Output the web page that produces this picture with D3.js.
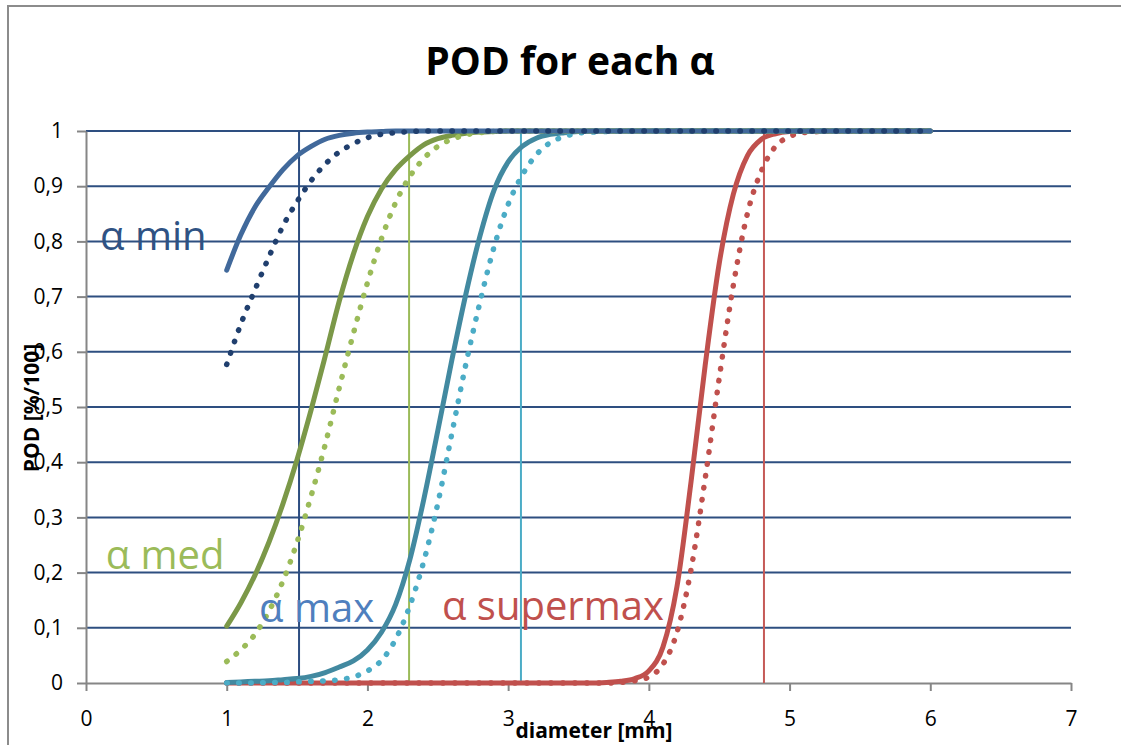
<!DOCTYPE html>
<html>
<head>
<meta charset="utf-8">
<script src="https://cdn.jsdelivr.net/npm/d3@7"></script>
<style>
  html, body { margin: 0; padding: 0; background: #fff; }
  svg { display: block; font-family: "Open Sans", "Noto Sans", sans-serif; }
</style>
</head>
<body>
<svg id="chart" width="1121" height="745"></svg>
<script>
// ---------------- data ----------------
const diameters = [1.0,1.1,1.2,1.3,1.4,1.5,1.6,1.7,1.8,1.9,
                   2.0,2.1,2.2,2.3,2.4,2.5,2.6,2.7,2.8,2.9,
                   3.0,3.1,3.2,3.3,3.4,3.5,3.6,3.7,3.8,3.9,
                   4.0,4.1,4.2,4.3,4.4,4.5,4.6,4.7,4.8,4.9,
                   5.0,5.1,5.2,5.3,5.4,5.5,5.6,5.7,5.8,5.9,6.0];

const podMinSolid = [0.748,0.812,0.862,0.898,0.930,0.955,0.972,0.985,0.992,0.996,
                     0.998,0.999,1,1,1,1,1,1,1,1,
                     1,1,1,1,1,1,1,1,1,1,
                     1,1,1,1,1,1,1,1,1,1,
                     1,1,1,1,1,1,1,1,1,1,1];
const podMinDotted = [0.577,0.650,0.712,0.772,0.828,0.872,0.910,0.940,0.962,0.977,
                      0.988,0.994,0.997,0.999,1,1,1,1,1,1,
                      1,1,1,1,1,1,1,1,1,1,
                      1,1,1,1,1,1,1,1,1,1,
                      1,1,1,1,1,1,1,1,1,1,1];
const podMedSolid = [0.103,0.145,0.195,0.255,0.325,0.405,0.495,0.592,0.692,0.777,
                     0.845,0.895,0.930,0.955,0.975,0.986,0.992,0.996,0.998,0.999,
                     1,1,1,1,1,1,1,1,1,1,
                     1,1,1,1,1,1,1,1,1,1,
                     1,1,1,1,1,1,1,1,1,1,1];
const podMedDotted = [0.039,0.060,0.088,0.130,0.185,0.255,0.339,0.432,0.535,0.633,
                      0.725,0.805,0.870,0.917,0.950,0.972,0.985,0.993,0.997,0.999,
                      1,1,1,1,1,1,1,1,1,1,
                      1,1,1,1,1,1,1,1,1,1,
                      1,1,1,1,1,1,1,1,1,1,1];
const podMaxSolid = [0.001,0.002,0.003,0.004,0.006,0.008,0.012,0.019,0.029,0.040,
                     0.060,0.092,0.142,0.222,0.332,0.457,0.585,0.705,0.810,0.893,
                     0.944,0.972,0.987,0.994,0.997,0.999,1,1,1,1,
                     1,1,1,1,1,1,1,1,1,1,
                     1,1,1,1,1,1,1,1,1,1,1];
const podMaxDotted = [0,0,0,0.001,0.001,0.002,0.003,0.004,0.006,0.011,
                      0.022,0.041,0.079,0.139,0.220,0.325,0.452,0.578,0.690,0.790,
                      0.867,0.920,0.957,0.979,0.990,0.996,0.998,0.999,1,1,
                      1,1,1,1,1,1,1,1,1,1,
                      1,1,1,1,1,1,1,1,1,1,1];
const podSupermaxSolid = [0,0,0,0,0,0,0,0,0,0,
                          0,0,0,0,0,0,0,0,0,0,
                          0,0,0,0,0,0,0,0.001,0.003,0.008,
                          0.022,0.065,0.175,0.365,0.575,0.760,0.885,0.955,0.985,0.995,
                          0.999,1,1,1,1,1,1,1,1,1,1];
const podSupermaxDotted = [0,0,0,0,0,0,0,0,0,0,
                           0,0,0,0,0,0,0,0,0,0,
                           0,0,0,0,0,0,0,0,0.001,0.004,
                           0.011,0.034,0.092,0.206,0.370,0.552,0.720,0.850,0.928,0.972,
                           0.990,0.997,0.999,1,1,1,1,1,1,1,1];

// vertical reference diameters (POD threshold lines)
const refDiameters = [1.514, 2.296, 3.091, 4.818];

const xTicks = [0,1,2,3,4,5,6,7];
const xTickLabels = ["0","1","2","3","4","5","6","7"];
const yTicks = [0,0.1,0.2,0.3,0.4,0.5,0.6,0.7,0.8,0.9,1];
const yTickLabels = ["0","0,1","0,2","0,3","0,4","0,5","0,6","0,7","0,8","0,9","1"];

const seriesLabels = ["α min","α med","α max","α supermax"];
const labelAnchors = [[0.1,0.785],[0.14,0.207],[1.23,0.11],[2.53,0.115]];

// ---------------- styling ----------------
const colors = {
  minSolid: "#41699b", minDotted: "#203f6e",
  medSolid: "#7b9848", medDotted: "#9bbb59",
  maxSolid: "#4289a0", maxDotted: "#4bacc6",
  supSolid: "#c0504d", supDotted: "#c0504d"
};
const refColors = ["#2c4d80", "#9bbb59", "#4bacc6", "#c55a57"];
const labelColors = ["#2f5283", "#9bbb59", "#4f7fbe", "#c0504d"];

const svg = d3.select("#chart");
const x = d3.scaleLinear().domain([0, 7]).range([86, 1071]);
const y = d3.scaleLinear().domain([0, 1]).range([683, 131]);

// outer chart border
svg.append("path")
  .attr("d", "M8,760 L8,6 L1130,6")
  .attr("fill", "none").attr("stroke", "#8c8c8c").attr("stroke-width", 2);

// title
svg.append("text")
  .attr("x", 570).attr("y", 75)
  .attr("text-anchor", "middle")
  .attr("font-weight", "bold").attr("font-size", 39)
  .attr("fill", "#000")
  .text("POD for each α");

// gridlines
svg.append("g").selectAll("line")
  .data(yTicks.filter(d => d > 0))
  .join("line")
  .attr("x1", x(0)).attr("x2", x(7))
  .attr("y1", d => y(d)).attr("y2", d => y(d))
  .attr("stroke", "#2e4f80").attr("stroke-width", 2);

// y axis
const yAxis = d3.axisLeft(y).tickValues(yTicks)
  .tickFormat((d, i) => yTickLabels[i]).tickSize(9).tickSizeOuter(0).tickPadding(14);
const gy = svg.append("g").attr("transform", `translate(${x(0)},0)`).call(yAxis);
gy.select(".domain").attr("stroke", "#868686").attr("stroke-width", 2);
gy.selectAll(".tick line").attr("stroke", "#868686").attr("stroke-width", 2);
gy.selectAll(".tick text").attr("font-size", 21).attr("fill", "#000")
  .attr("font-family", "'Open Sans', sans-serif");

// x axis
const xAxis = d3.axisBottom(x).tickValues(xTicks)
  .tickFormat((d, i) => xTickLabels[i]).tickSize(8).tickSizeOuter(0).tickPadding(20);
const gx = svg.append("g").attr("transform", `translate(0,${y(0)})`).call(xAxis);
gx.select(".domain").attr("stroke", "#868686").attr("stroke-width", 2);
gx.selectAll(".tick line").attr("stroke", "#868686").attr("stroke-width", 2);
gx.selectAll(".tick text").attr("font-size", 21).attr("fill", "#000")
  .attr("font-family", "'Open Sans', sans-serif");

// vertical reference lines
svg.append("g").selectAll("line")
  .data(refDiameters)
  .join("line")
  .attr("x1", d => x(d)).attr("x2", d => x(d))
  .attr("y1", y(0)).attr("y2", y(1))
  .attr("stroke", (d, i) => refColors[i]).attr("stroke-width", 2);

// curves
const line = d3.line()
  .x((d, i) => x(diameters[i]))
  .y(d => y(d))
  .curve(d3.curveMonotoneX);

const series = [
  {v: podSupermaxSolid, c: colors.supSolid, dotted: false},
  {v: podSupermaxDotted, c: colors.supDotted, dotted: true},
  {v: podMaxSolid, c: colors.maxSolid, dotted: false},
  {v: podMaxDotted, c: colors.maxDotted, dotted: true},
  {v: podMedSolid, c: colors.medSolid, dotted: false},
  {v: podMedDotted, c: colors.medDotted, dotted: true},
  {v: podMinSolid, c: colors.minSolid, dotted: false},
  {v: podMinDotted, c: colors.minDotted, dotted: true}
];
svg.append("g").selectAll("path")
  .data(series)
  .join("path")
  .attr("d", d => line(d.v))
  .attr("fill", "none")
  .attr("stroke", d => d.c)
  .attr("stroke-width", d => d.dotted ? 5.5 : 5)
  .attr("stroke-linecap", "round")
  .attr("stroke-linejoin", "round")
  .attr("stroke-dasharray", d => d.dotted ? "0.5 11.5" : null);

// series labels
svg.append("g").selectAll("text")
  .data(seriesLabels)
  .join("text")
  .attr("x", (d, i) => x(labelAnchors[i][0]))
  .attr("y", (d, i) => y(labelAnchors[i][1]))
  .attr("font-size", 40)
  .attr("fill", (d, i) => labelColors[i])
  .text(d => d);

// axis titles
svg.append("text")
  .attr("x", 594).attr("y", 738)
  .attr("text-anchor", "middle")
  .attr("font-weight", "bold").attr("font-size", 21)
  .attr("fill", "#000")
  .text("diameter [mm]");

svg.append("text")
  .attr("transform", "translate(39,408) rotate(-90)")
  .attr("text-anchor", "middle")
  .attr("font-weight", "bold").attr("font-size", 21)
  .attr("fill", "#000")
  .text("POD [%/100]");
</script>
</body>
</html>
